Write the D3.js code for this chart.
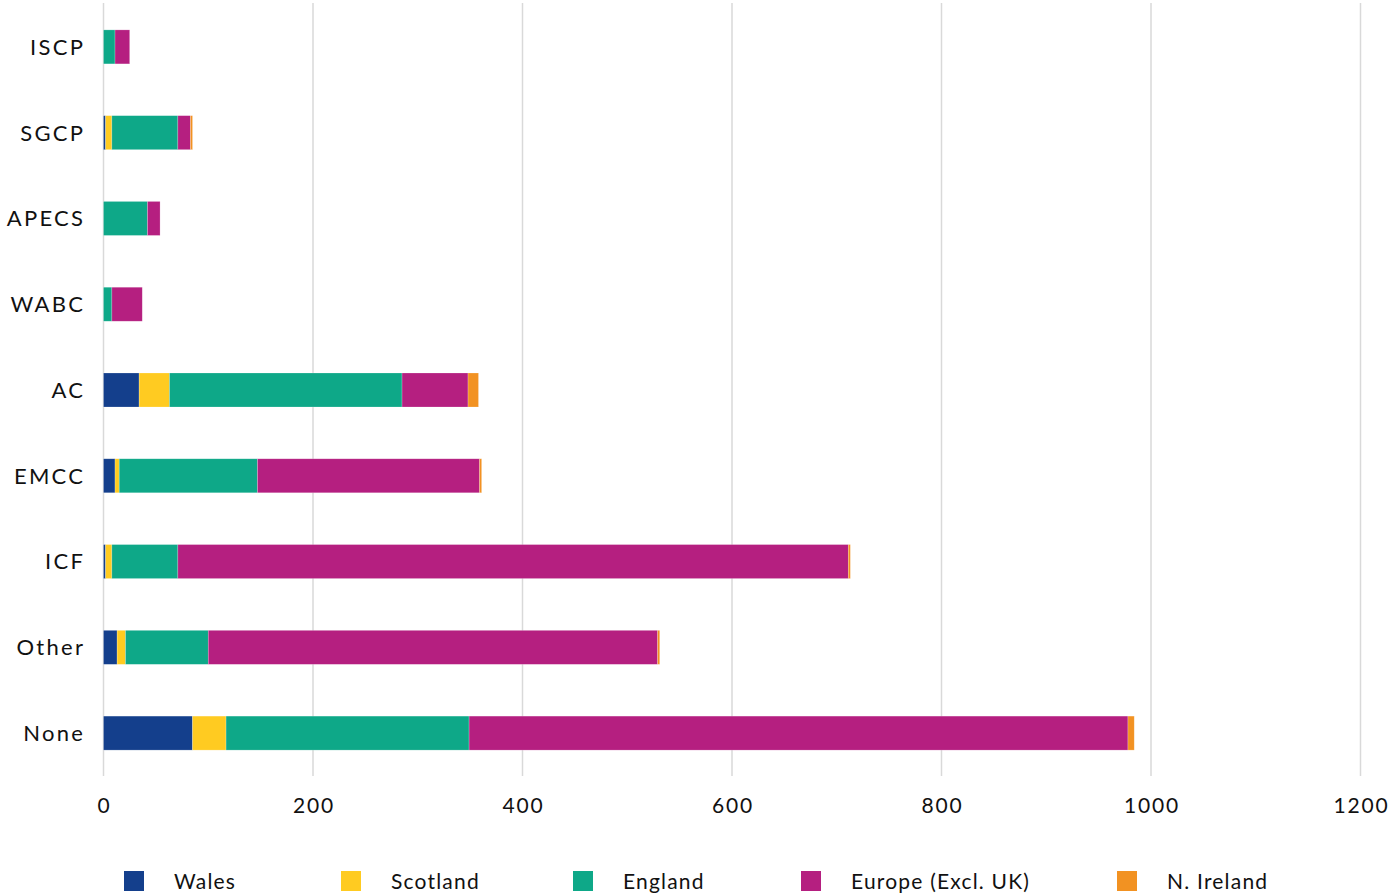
<!DOCTYPE html>
<html><head><meta charset="utf-8">
<script src="https://cdn.jsdelivr.net/npm/d3@7"></script>
<style>body{margin:0;background:#fff;}svg{display:block;font-family:Lato,"Open Sans",sans-serif;}</style>
</head><body><svg id="c" width="1392" height="894"></svg>
<script>
const categories = ["ISCP","SGCP","APECS","WABC","AC","EMCC","ICF","Other","None"];
const seriesNames = ["Wales","Scotland","England","Europe (Excl. UK)","N. Ireland"];
const wales    = [0, 2, 0, 0, 34, 11, 2, 13, 85];
const scotland = [0, 6, 0, 0, 29, 4, 6, 8, 32];
const england  = [11, 63, 42, 8, 222, 132, 63, 79, 232];
const europe   = [14, 12, 12, 29, 63, 212, 640, 429, 629];
const nireland = [0, 2, 0, 0, 10, 2, 2, 2, 6];
const colors = ["#143f8c","#ffcb21","#0ea888","#b51f80","#f29222"];
const xTicks = [0,200,400,600,800,1000,1200];

const seriesVals = [wales, scotland, england, europe, nireland];
const rows = categories.map((c,i)=>{const r={cat:c}; seriesNames.forEach((s,j)=>r[s]=seriesVals[j][i]); return r;});
const stack = d3.stack().keys(seriesNames)(rows);

const svg = d3.select("#c");
const x = d3.scaleLinear().domain([0,1200]).range([103.5,1360.5]);
const y = d3.scaleBand().domain(categories).range([4,776]).paddingInner(0.6036).paddingOuter(0.3018);

// gridlines
svg.append("g").selectAll("line").data(xTicks).join("line")
  .attr("x1",d=>x(d)).attr("x2",d=>x(d)).attr("y1",3).attr("y2",776)
  .attr("stroke","#d9d9d9").attr("stroke-width",1.5);

// bars
svg.append("g").selectAll("g").data(stack).join("g")
  .attr("fill",(d,i)=>colors[i])
  .selectAll("rect").data(d=>d).join("rect")
  .attr("x",d=>x(d[0])).attr("width",d=>Math.max(0,x(d[1])-x(d[0])))
  .attr("y",d=>y(d.data.cat)).attr("height",y.bandwidth())
  .attr("stroke","#ffffff").attr("stroke-opacity",0.35).attr("stroke-width",0.6);

// x tick labels
const tls = 1.8;
svg.append("g").selectAll("text").data(xTicks).join("text")
  .attr("x",d=>x(d)+tls/2).attr("y",813).attr("text-anchor","middle")
  .attr("font-size",21).attr("letter-spacing",tls).attr("fill","#111").text(d=>d);

// category labels
const cls = 2.3;
svg.append("g").selectAll("text").data(categories).join("text")
  .attr("x",83+cls).attr("y",d=>y(d)+y.bandwidth()/2).attr("dy","0.36em")
  .attr("text-anchor","end").attr("font-size",22).attr("letter-spacing",cls).attr("fill","#111").text(d=>d);

// legend
const legX = [124,341,573,801,1117];
const leg = svg.append("g").selectAll("g").data(seriesNames).join("g")
  .attr("transform",(d,i)=>`translate(${legX[i]},871)`);
leg.append("rect").attr("width",20).attr("height",20).attr("fill",(d,i)=>colors[i]);
leg.append("text").attr("x",50).attr("y",10).attr("dy","0.36em")
  .attr("font-size",21).attr("letter-spacing",1.2).attr("fill","#111").text(d=>d);
</script></body></html>
